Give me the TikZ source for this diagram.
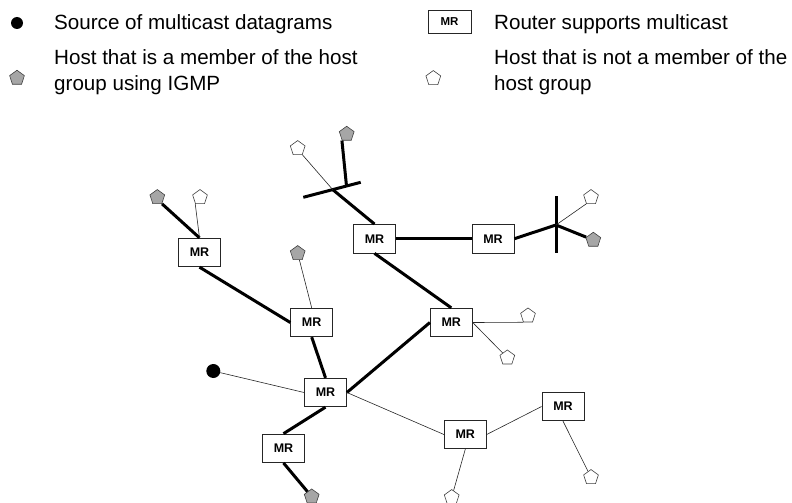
\documentclass[tikz,border=0pt]{standalone}
\usepackage{fontspec}
\setmainfont{Liberation Sans}
\usetikzlibrary{shapes.geometric}
\definecolor{hostgray}{RGB}{166,166,166}
\begin{document}
\begin{tikzpicture}[x=1pt,y=-1pt,
  router/.style={draw=black!85, line width=0.8pt, fill=white, minimum width=42pt, minimum height=28.5pt, inner sep=0pt, font=\fontsize{12.5}{14}\selectfont\bfseries},
  lrouter/.style={router, minimum width=43pt, minimum height=23pt, font=\fontsize{11.5}{13}\selectfont\bfseries},
  member/.style={regular polygon, regular polygon sides=5, draw=black!75, line width=0.6pt, fill=hostgray, minimum size=15.5pt, inner sep=0pt},
  nonmember/.style={member, fill=white},
  src/.style={circle, fill=black, minimum size=14pt, inner sep=0pt},
  lsrc/.style={src, minimum size=12pt},
  boldlink/.style={line width=3pt, line cap=butt},
  finelink/.style={line width=0.6pt, draw=black!85},
  legendtext/.style={anchor=base west, font=\fontsize{20.6}{25}\selectfont, inner sep=0pt}
]
\useasboundingbox (0,0) rectangle (792,503);

% ---------- legend ----------
\node[lsrc] (ldot) at (17,23) {};
\node[legendtext] (t1) at (54,29.3) {Source of multicast datagrams};
\node[member] (lm) at (17,78) {};
\node[legendtext] (t2) at (54,64.3) {Host that is a member of the host};
\node[legendtext] (t3) at (54,90) {group using IGMP};
\node[lrouter] (lbox) at (449.5,22) {MR};
\node[legendtext] (t4) at (494,29.3) {Router supports multicast};
\node[nonmember] (ln) at (433.3,78.3) {};
\node[legendtext] (t5) at (494,64.3) {Host that is not a member of the};
\node[legendtext] (t6) at (494,90) {host group};

% ---------- routers ----------
\node[router] (A) at (199.5,252.5) {MR};
\node[router] (B) at (374.5,238.7) {MR};
\node[router] (C) at (493,238.7) {MR};
\node[router] (D) at (451.3,322.5) {MR};
\node[router] (E) at (311.7,322.5) {MR};
\node[router] (F) at (325.5,392.5) {MR};
\node[router] (G) at (283.5,448.3) {MR};
\node[router] (H) at (465.3,434.5) {MR};
\node[router] (I) at (563,406.5) {MR};

% ---------- hosts ----------
\node[member]    (m1) at (157.3,197.3) {};
\node[nonmember] (n1) at (200,197.3) {};
\node[nonmember] (n2) at (297.7,148.3) {};
\node[member]    (m2) at (346.7,134) {};
\node[member]    (m3) at (297.7,253.3) {};
\node[nonmember] (n3) at (591,197.3) {};
\node[member]    (m4) at (593.3,240) {};
\node[nonmember] (n4) at (528,315.7) {};
\node[nonmember] (n5) at (507.3,357.7) {};
\node[member]    (m5) at (311.7,496.7) {};
\node[nonmember] (n6) at (451.7,497.3) {};
\node[nonmember] (n7) at (591,477.3) {};
\node[src]       (s)  at (213.3,371) {};

% ---------- segment junctions ----------
\coordinate (jB) at (332.7,189.6);
\coordinate (b1) at (303.3,197.3);
\coordinate (b2) at (360.7,182.3);
\coordinate (jBm) at (346.5,186);
\coordinate (jC) at (556,225);
\coordinate (c1) at (556,196);
\coordinate (c2) at (556,253.3);

% ---------- links ----------
\draw[boldlink] (m1.corner 4) -- (A.north);
\draw[finelink] (n1.corner 3) -- (A.north);
\draw[boldlink] (A.south) -- (E.west);
\draw[finelink] (m3) -- (E.north);
\draw[boldlink] (E.south) -- (F.north);
\draw[boldlink] (F.east) -- (D.west);
\draw[finelink] (s) -- (F.west);
\draw[finelink] (F.east) -- (H.west);
\draw[boldlink] (F.south) -- (G.north);
\draw[boldlink] (G.south) -- (m5);
\draw[finelink] (H.east) -- (I.west);
\draw[finelink] (H.south) -- (n6);
\draw[finelink] (I.south) -- (n7);
\draw[boldlink] (B.north) -- (jB);
\draw[boldlink] (b1) -- (b2);
\draw[boldlink] (jBm) -- (m2.corner 3);
\draw[finelink] (jB) -- (n2.corner 4);
\draw[boldlink] (B.east) -- (C.west);
\draw[boldlink] (B.south) -- (D.north);
\draw[boldlink] (C.east) -- (jC);
\draw[boldlink] (c1) -- (c2);
\draw[boldlink] (jC) -- (m4);
\draw[finelink] (jC) -- (n3.corner 3);
\draw[finelink] (D.east) -- (n4.corner 3);
\draw[finelink] (D.east) -- (n5);
\end{tikzpicture}
\end{document}
